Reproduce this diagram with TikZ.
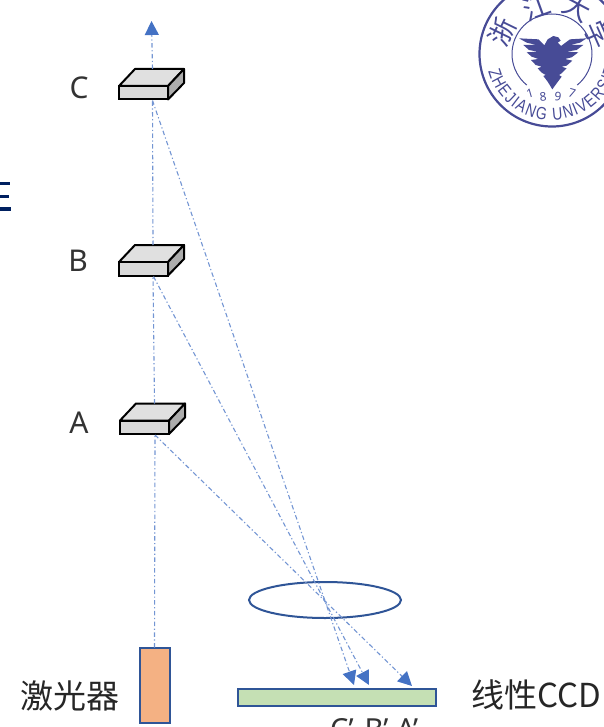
\documentclass[tikz,border=0pt]{standalone}
\usepackage{fontspec}
\setmainfont{Noto Sans}
\newfontfamily\cjkf{Noto Sans CJK SC}
\newfontfamily\narrowf[FakeStretch=0.8]{Liberation Sans}
\usetikzlibrary{arrows.meta,decorations.text,calc,shapes.geometric}
\definecolor{beamc}{HTML}{4472C4}
\definecolor{framec}{HTML}{2F5597}
\definecolor{logoc}{HTML}{474B96}
\definecolor{navyc}{HTML}{002060}
\definecolor{laserfill}{HTML}{F4B183}
\definecolor{ccdfill}{HTML}{C5E0B4}
\tikzset{
  x=1pt,y=-1pt,
  beam/.style={draw=beamc!75!white,line width=1.1pt,dash pattern=on 4.5pt off 2.5pt on 1.2pt off 2.5pt},
  beamarrow/.style={beam,-{Triangle[length=14pt,width=14pt,color=beamc]}},
  blockfront/.style={draw=black,line width=2pt,fill=black!15,minimum width=49pt,minimum height=13.5pt,inner sep=0pt,outer sep=0pt,anchor=north west},
  blocktop/.style={draw=black,line width=2pt,fill=black!12,line join=round},
  blockside/.style={draw=black,line width=2pt,fill=black!32,line join=round},
  lbl/.style={inner sep=0pt,font=\cjkf\fontsize{33}{33}\selectfont,text=black!85},
  lettr/.style={inner sep=0pt,font=\fontsize{30}{30}\selectfont,text=black!80},
  logochar/.style={inner sep=0pt,text=logoc,font=\cjkf\fontsize{27}{27}\selectfont},
  logonum/.style={inner sep=0pt,text=logoc,font=\fontsize{12}{12}\selectfont},
  framed/.style={draw=framec,line width=2pt,inner sep=0pt,outer sep=0pt},
}
\newcommand{\lsblock}[3]{%
  \filldraw[blocktop] (#2,#3) -- ++(16,-17) -- ++(49,0) -- ++(-16,17) -- cycle;
  \filldraw[blockside] (#2+49,#3) -- ++(16,-17) -- ++(0,14) -- ++(-16,16.5) -- cycle;
  \node[blockfront] (#1) at (#2,#3) {};
}
\begin{document}
\begin{tikzpicture}
\useasboundingbox (0,0) rectangle (604,727);
\clip (0,0) rectangle (604,727);
% fragment at left
\fill[navyc] (0,182) rectangle (10,185.5);
\fill[navyc] (0,195) rectangle (9,198.5);
\fill[navyc] (0,207.5) rectangle (11,211);
% blocks
\lsblock{blockC}{119}{86}
\lsblock{blockB}{119}{262}
\lsblock{blockA}{120}{420.5}
\node[lettr] (labC) at (79,88) {C};
\node[lettr] (labB) at (78,261) {B};
\node[lettr] (labA) at (79,423) {A};
% laser, lens, ccd
\node[framed,fill=laserfill,minimum width=30pt,minimum height=75pt,anchor=north west] (laser) at (139.5,647.5) {};
\node[framed,fill=ccdfill,minimum width=198pt,minimum height=17pt,anchor=north west] (ccd) at (238,688.5) {};
\node[framed,minimum width=152pt,minimum height=36pt,ellipse] (lens) at (325,600) {};
\coordinate (top) at (151.5,21);
\coordinate (tipC) at (354,685);
\coordinate (tipB) at (369,685);
\coordinate (tipA) at (412,686);
% beams
\draw[beam] (laser.north) -- ([xshift=10.5pt,yshift=-1pt]blockA.south);
\draw[beam] ([xshift=10pt,yshift=17pt]blockA.north) -- ([xshift=9.5pt,yshift=-1pt]blockB.south);
\draw[beam] ([xshift=9.5pt,yshift=17pt]blockB.north) -- ([xshift=9pt,yshift=-1pt]blockC.south);
\draw[beamarrow] ([xshift=9pt,yshift=17pt]blockC.north) -- (top);
\draw[beamarrow] ([xshift=9pt,yshift=-1pt]blockC.south) -- (tipC);
\draw[beamarrow] ([xshift=10pt,yshift=-1pt]blockB.south) -- (tipB);
\draw[beamarrow] ([xshift=10.5pt,yshift=-1pt]blockA.south) -- (tipA);
% labels
\node[lbl,anchor=west] (laserlab) at (20,696) {激光器};
\node[lbl,anchor=west] (ccdlab) at (471,695) {线性CCD};
\node[lettr,anchor=west,font=\fontsize{29}{29}\selectfont] (primes) at (330,729) {C’\hspace{11pt}B’\hspace{8pt}A’};
% logo
\draw[logoc,line width=2.2pt] (552,54) circle[radius=72.5];
\draw[logoc,line width=1pt] (552,54) ++(129:40) arc[start angle=129,end angle=411,radius=40];
\begin{scope}[shift={(515,30)},x=0.3333pt,y=-0.3333pt]
\fill[logoc] (12,25)--(70,28)--(88,46)--(98,28)--(115,18)--(130,22)--(137,32)--(128,38)--(138,48)--(165,28)--(215,25)
 --(195,38)--(165,45)--(205,45)--(185,60)--(155,65)--(190,67)--(170,82)--(150,87)--(172,92)--(155,107)--(140,110)
 --(155,115)--(140,130)--(132,135)--(140,140)--(125,160)--(112,178)--(98,155)--(85,138)--(92,135)--(80,128)--(68,115)
 --(80,110)--(62,105)--(48,90)--(70,87)--(50,80)--(35,67)--(68,65)--(42,60)--(25,45)--(65,45)--(35,38)--cycle;
\end{scope}
\node[logochar,rotate=64] (zhe) at (502,32) {浙};
\node[logochar,rotate=20] (jiang) at (537,7) {江};
\node[logochar,rotate=-28] (da) at (577,8) {大};
\node[logochar,rotate=-66] (xue) at (598,35) {学};
\node[logonum,rotate=16] (n1) at (530,93) {1};
\node[logonum,rotate=6] (n2) at (543,97) {8};
\node[logonum,rotate=-6] (n3) at (558,97) {9};
\node[logonum,rotate=-16] (n4) at (572,93) {7};
\path[decorate,decoration={text along path,text align={fit to path},text color=logoc,
  text={|\narrowf\fontsize{17.5}{17.5}\selectfont|ZHEJIANG UNIVERSITY}}]
  (552,54) ++(165:66) arc[start angle=165,end angle=4,radius=66];
\end{tikzpicture}
\end{document}
